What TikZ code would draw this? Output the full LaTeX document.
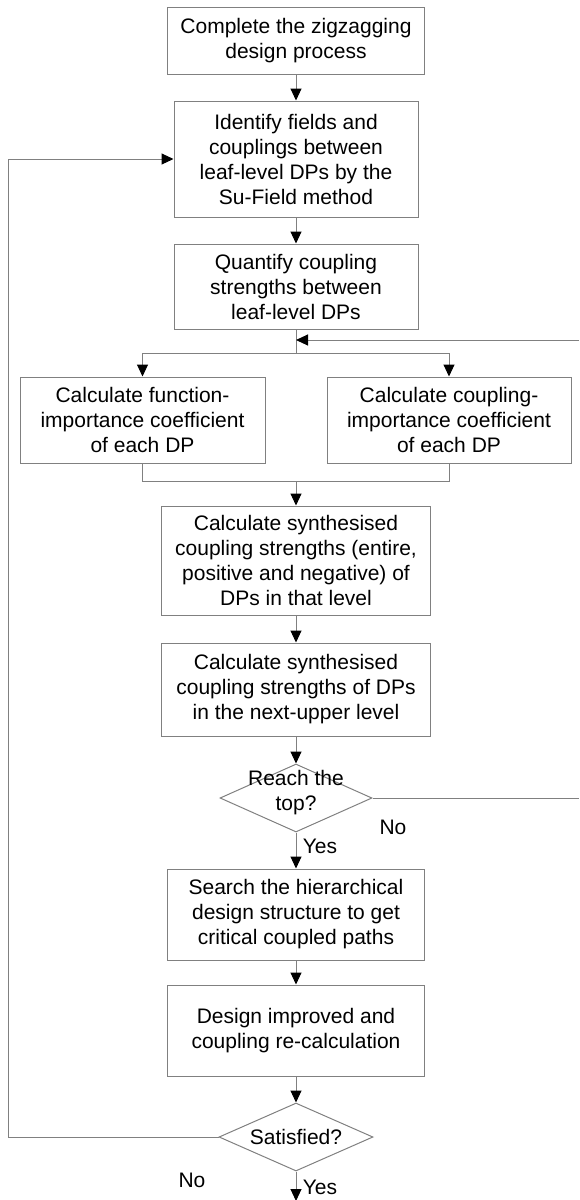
\documentclass[tikz,border=0pt]{standalone}
\usepackage{fontspec}
\setmainfont{Liberation Sans}
\usetikzlibrary{arrows.meta,shapes.geometric}
\definecolor{edgegray}{RGB}{128,128,128}
\begin{document}
\begin{tikzpicture}[x=1pt,y=-1pt,
  every node/.style={font=\fontsize{21}{25}\selectfont},
  procbox/.style={draw=edgegray,line width=1pt,inner sep=0pt,align=center,fill=white},
  decision/.style={draw=edgegray,line width=1pt,diamond,inner sep=0pt},
  conn/.style={draw=edgegray,line width=1pt},
  flow/.style={conn,-{Triangle[width=11pt,length=12pt,color=black]}},
  lbl/.style={inner sep=0pt}]
\useasboundingbox (0,0) rectangle (579,1200);

% process boxes
\node[procbox,minimum width=257pt,minimum height=67pt] (b1) at (296,40.5)
  {Complete the zigzagging\\design process};
\node[procbox,minimum width=244pt,minimum height=116pt] (b2) at (296,159)
  {Identify fields and\\couplings between\\leaf-level DPs by the\\Su-Field method};
\node[procbox,minimum width=244pt,minimum height=85pt] (b3) at (296,286.5)
  {Quantify coupling\\strengths between\\leaf-level DPs};
\node[procbox,minimum width=245pt,minimum height=86pt] (bl) at (142.5,420)
  {Calculate function-\\importance coefficient\\of each DP};
\node[procbox,minimum width=244pt,minimum height=86pt] (br) at (449,420)
  {Calculate coupling-\\importance coefficient\\of each DP};
\node[procbox,minimum width=269pt,minimum height=109pt] (s1) at (296,560.5)
  {Calculate synthesised\\coupling strengths (entire,\\positive and negative) of\\DPs in that level};
\node[procbox,minimum width=269pt,minimum height=93pt] (s2) at (296,689.5)
  {Calculate synthesised\\coupling strengths of DPs\\in the next-upper level};
\node[decision,minimum width=152pt,minimum height=68pt] (d1) at (296,798) {};
\node[lbl,align=center] (d1t) at (296,793) {Reach the\\top?};
\node[procbox,minimum width=257pt,minimum height=91pt] (sr) at (296,914.5)
  {Search the hierarchical\\design structure to get\\critical coupled paths};
\node[procbox,minimum width=257pt,minimum height=91pt] (dr) at (296,1030.5)
  {Design improved and\\coupling re-calculation};
\node[decision,minimum width=154pt,minimum height=68pt] (d2) at (296,1137) {};
\node[lbl] (d2t) at (296,1137) {Satisfied?};

% branch labels
\node[lbl] (no1) at (393,827) {No};
\node[lbl] (yes1) at (320,846) {Yes};
\node[lbl] (no2) at (192,1180) {No};
\node[lbl] (yes2) at (320,1187) {Yes};

% junction points
\coordinate (split) at (296,353);
\coordinate (splitl) at (142.5,353);
\coordinate (splitr) at (449,353);
\coordinate (join) at (296,481);
\coordinate (joinl) at (142.5,481);
\coordinate (joinr) at (449,481);
\coordinate (retin) at (579,340);
\coordinate (retpt) at (296,340);
\coordinate (noout) at (579,798);
\coordinate (loopb) at (8,1137);
\coordinate (loopt) at (8,159);
\coordinate (endpt) at (296,1201);

% connectors
\draw[flow] (b1) -- (b2);
\draw[flow] (b2) -- (b3);
\draw[conn] (b3) -- (split);
\draw[flow] (retin) -- (retpt);
\draw[conn] (splitl) -- (splitr);
\draw[flow] (splitl) -- (bl);
\draw[flow] (splitr) -- (br);
\draw[conn] (bl) -- (joinl) -- (joinr) -- (br);
\draw[flow] (join) -- (s1);
\draw[flow] (s1) -- (s2);
\draw[flow] (s2) -- (d1);
\draw[conn] (d1.east) -- (noout);
\draw[flow] (d1) -- (sr);
\draw[flow] (sr) -- (dr);
\draw[flow] (dr) -- (d2);
\draw[flow] (d2.west) -- (loopb) -- (loopt) -- (b2.west);
\draw[flow] (d2) -- (endpt);
\end{tikzpicture}
\end{document}
